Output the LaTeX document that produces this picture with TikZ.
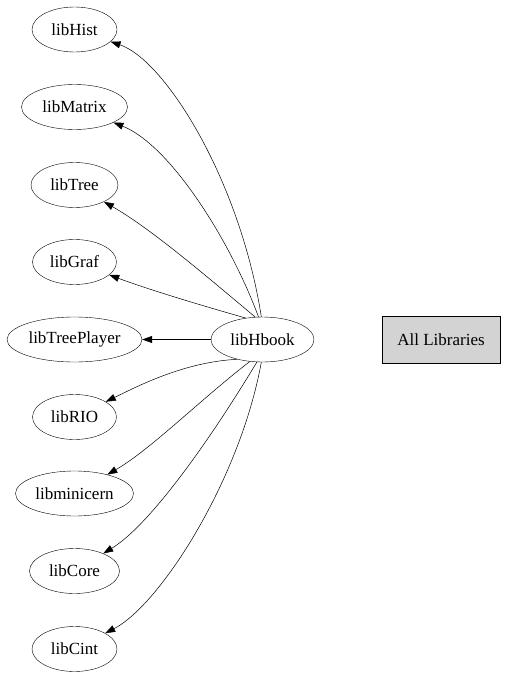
\documentclass[tikz,border=0pt]{standalone}
\usepackage{fontspec}
\setmainfont{Liberation Serif}
\usetikzlibrary{shapes.geometric,arrows.meta}
\begin{document}
\begin{tikzpicture}[x=1pt,y=-1pt,
  lib/.style={draw,ellipse,inner sep=0pt,minimum height=45pt,font=\fontsize{17}{19}\selectfont},
  box/.style={draw,rectangle,fill={rgb,255:red,211;green,211;blue,211},minimum width=118pt,minimum height=47pt,inner sep=0pt,font=\fontsize{17}{19}\selectfont},
  dep/.style={-{Triangle[length=10pt,width=7pt]},line width=0.5pt}]
\useasboundingbox (0,0) rectangle (507,677);
\node[lib,minimum width=85pt] (hist) at (74.5,29.5) {libHist};
\node[lib,minimum width=106pt] (matrix) at (74.5,107) {libMatrix};
\node[lib,minimum width=87pt] (tree) at (74.5,185) {libTree};
\node[lib,minimum width=84pt] (graf) at (74.5,262) {libGraf};
\node[lib,minimum width=135pt] (tp) at (74.5,339.5) {libTreePlayer};
\node[lib,minimum width=103pt] (hb) at (262.5,339.5) {libHbook};
\node[lib,minimum width=84pt] (rio) at (74.5,417) {libRIO};
\node[lib,minimum width=118pt] (mc) at (74.5,493.5) {libminicern};
\node[lib,minimum width=90pt] (core) at (74.5,571) {libCore};
\node[lib,minimum width=85pt] (cint) at (74.5,649) {libCint};
\node[box] (all) at (441,339.5) {All Libraries};
\draw[dep] (hb.93) .. controls (240,180) and (165,60) .. (hist);
\draw[dep] (hb.100) .. controls (230,240) and (170,145) .. (matrix);
\draw[dep] (hb.108) .. controls (205,275) and (150,228) .. (tree);
\draw[dep] (hb.128) .. controls (200,305) and (150,290) .. (graf);
\draw[dep] (hb) -- (tp);
\draw[dep] (hb.218) .. controls (185,362) and (140,385) .. (rio);
\draw[dep] (hb.240) .. controls (200,400) and (150,450) .. (mc);
\draw[dep] (hb.256) .. controls (210,440) and (150,525) .. (core);
\draw[dep] (hb.267) .. controls (240,480) and (160,605) .. (cint);
\end{tikzpicture}
\end{document}
